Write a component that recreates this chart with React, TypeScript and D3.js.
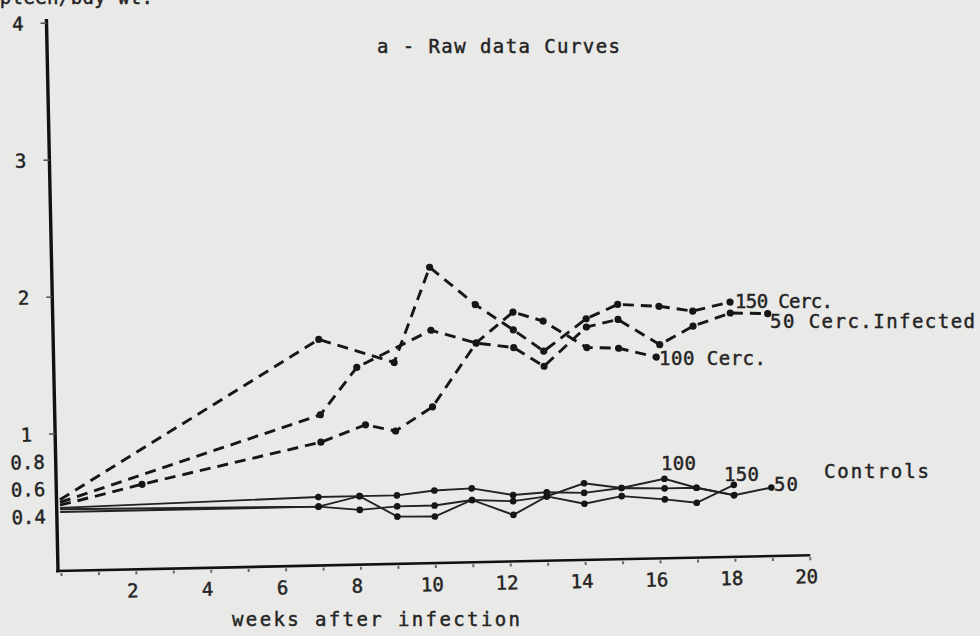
import React from 'react';
import * as d3 from 'd3';

// ---- data ----
const xTickWeeks = d3.range(0, 21);
const xTickLabels = [2, 4, 6, 8, 10, 12, 14, 16, 18, 20];
const yIntTicks = [1, 2, 3, 4];
const yDecTicks = [0.4, 0.6, 0.8];

// infected (dashed) — weeks as plotted by hand in the original
const inf150Weeks = [0, 7, 9, 10, 11.2, 12.2, 13, 14.15, 15, 16.1, 17, 18];
const inf150Vals = [0.52, 1.65, 1.47, 2.16, 1.88, 1.69, 1.53, 1.76, 1.86, 1.84, 1.8, 1.86];
const inf100Weeks = [0, 2.2, 7, 8.2, 9, 10, 11.2, 12.2, 13, 14.15, 15, 16];
const inf100Vals = [0.48, 0.62, 0.9, 1.02, 0.97, 1.14, 1.6, 1.82, 1.75, 1.55, 1.54, 1.47];
const inf50Weeks = [0, 7, 8, 10, 11.2, 12.2, 13, 14.15, 15, 16.1, 17, 18, 19];
const inf50Vals = [0.5, 1.1, 1.44, 1.7, 1.6, 1.56, 1.42, 1.7, 1.75, 1.56, 1.69, 1.78, 1.77];

// controls (solid)
const ctl50Weeks = [0, 6.9, 8, 9, 10, 11, 12.1, 13, 14, 15, 16.15, 17, 18, 19];
const ctl50Vals = [0.46, 0.5, 0.5, 0.5, 0.53, 0.54, 0.485, 0.5, 0.49, 0.52, 0.51, 0.51, 0.45, 0.5];
const ctl100Weeks = [0, 6.9, 8, 9, 10, 11, 12.1, 13, 14, 15, 16.15, 17, 18];
const ctl100Vals = [0.45, 0.43, 0.5, 0.345, 0.34, 0.455, 0.34, 0.47, 0.56, 0.52, 0.58, 0.51, 0.45];
const ctl150Weeks = [0, 6.9, 8, 9, 10, 11, 12.1, 13, 14, 15, 16.15, 17, 18];
const ctl150Vals = [0.43, 0.43, 0.4, 0.42, 0.42, 0.455, 0.44, 0.47, 0.41, 0.46, 0.43, 0.4, 0.525];

const zip = (w: number[], v: number[]) => w.map((d, i) => [d, v[i]] as [number, number]);

const infected = [zip(inf150Weeks, inf150Vals), zip(inf100Weeks, inf100Vals), zip(inf50Weeks, inf50Vals)];
const controls = [zip(ctl50Weeks, ctl50Vals), zip(ctl100Weeks, ctl100Vals), zip(ctl150Weeks, ctl150Vals)];

const FONT = '"DejaVu Sans Mono", "Liberation Mono", monospace';
const INK = '#161616';
const TXT = '#242424';
const BG = '#e9e9e7';

export default function App() {
  const W = 980;
  const H = 636;
  const x = d3.scaleLinear().domain([0, 20]).range([3.4, 752.4]);
  const y = d3.scaleLinear().domain([0, 4]).range([0, -548]);
  const line = d3
    .line<[number, number]>()
    .x((d) => x(d[0]))
    .y((d) => y(d[1]));

  const textStyle = {
    fontFamily: FONT,
    fontSize: 19,
    fill: TXT,
    stroke: TXT,
    strokeWidth: 0.45,
  } as const;

  const label = (t: string, px: number, py: number, len: number) => (
    <text x={px} y={py} textLength={len} lengthAdjust="spacing" {...textStyle}>
      {t}
    </text>
  );

  return (
    <div style={{ position: 'absolute', left: 0, top: 0 }}>
      <svg width={W} height={H} style={{ display: 'block' }}>
        <rect x={0} y={0} width={W} height={H} fill={BG} />

        <g transform="translate(58,571) rotate(-1.2)">
          {/* axes */}
          <line x1={0} x2={0} y1={y(-0.01)} y2={y(4.03)} stroke="#111" strokeWidth={3.4} />
          <line x1={-2} x2={x(20)} y1={0} y2={0} stroke="#111" strokeWidth={2.6} />

          {/* x ticks (small dots below axis) */}
          {xTickWeeks.map((w) => (
            <line key={'xt' + w} x1={x(w)} x2={x(w)} y1={2} y2={5} stroke="#666" strokeWidth={2} />
          ))}
          {/* y ticks */}
          {yIntTicks.map((v) => (
            <line key={'yt' + v} x1={-6} x2={0} y1={y(v)} y2={y(v)} stroke="#555" strokeWidth={1.6} />
          ))}

          {/* x tick labels */}
          {xTickLabels.map((w) => (
            <text
              key={'xl' + w}
              x={x(w) - 4}
              y={21}
              textAnchor="middle"
              dominantBaseline="central"
              {...textStyle}
            >
              {w}
            </text>
          ))}
          {/* y tick labels */}
          {yIntTicks.map((v) => (
            <text
              key={'yl' + v}
              x={-23}
              y={y(v)}
              textAnchor="end"
              dominantBaseline="central"
              {...textStyle}
            >
              {v}
            </text>
          ))}
          {yDecTicks.map((v) => (
            <text
              key={'yd' + v}
              x={-11}
              y={y(v)}
              textAnchor="end"
              dominantBaseline="central"
              {...textStyle}
            >
              {v.toFixed(1)}
            </text>
          ))}

          {/* control curves */}
          {controls.map((s, i) => (
            <path key={'c' + i} d={line(s) || ''} fill="none" stroke="#222" strokeWidth={1.9} />
          ))}
          {controls.map((s, i) =>
            s
              .filter((d) => d[0] > 0)
              .map((d, j) => <circle key={'cd' + i + '-' + j} cx={x(d[0])} cy={y(d[1])} r={3.3} fill={INK} />)
          )}

          {/* infected curves */}
          {infected.map((s, i) => (
            <path
              key={'i' + i}
              d={line(s) || ''}
              fill="none"
              stroke={INK}
              strokeWidth={2.9}
              strokeDasharray="11 7"
            />
          ))}
          {infected.map((s, i) =>
            s
              .filter((d) => d[0] > 0)
              .map((d, j) => <circle key={'id' + i + '-' + j} cx={x(d[0])} cy={y(d[1])} r={3.6} fill={INK} />)
          )}
        </g>

        {/* texts */}
        {label('Spleen/bdy wt.', -12, 4, 165)}
        {label('a - Raw data Curves', 377, 53, 243)}
        {label('weeks after infection', 232, 626, 288)}
        {label('150 Cerc.', 735, 308, 98)}
        {label('50 Cerc.Infected', 770, 328, 205)}
        {label('100 Cerc.', 659, 365, 107)}
        {label('100', 661, 470, 35)}
        {label('150', 724, 481, 35)}
        {label('50', 774, 491, 24)}
        {label('Controls', 824, 478, 105)}
      </svg>
    </div>
  );
}
